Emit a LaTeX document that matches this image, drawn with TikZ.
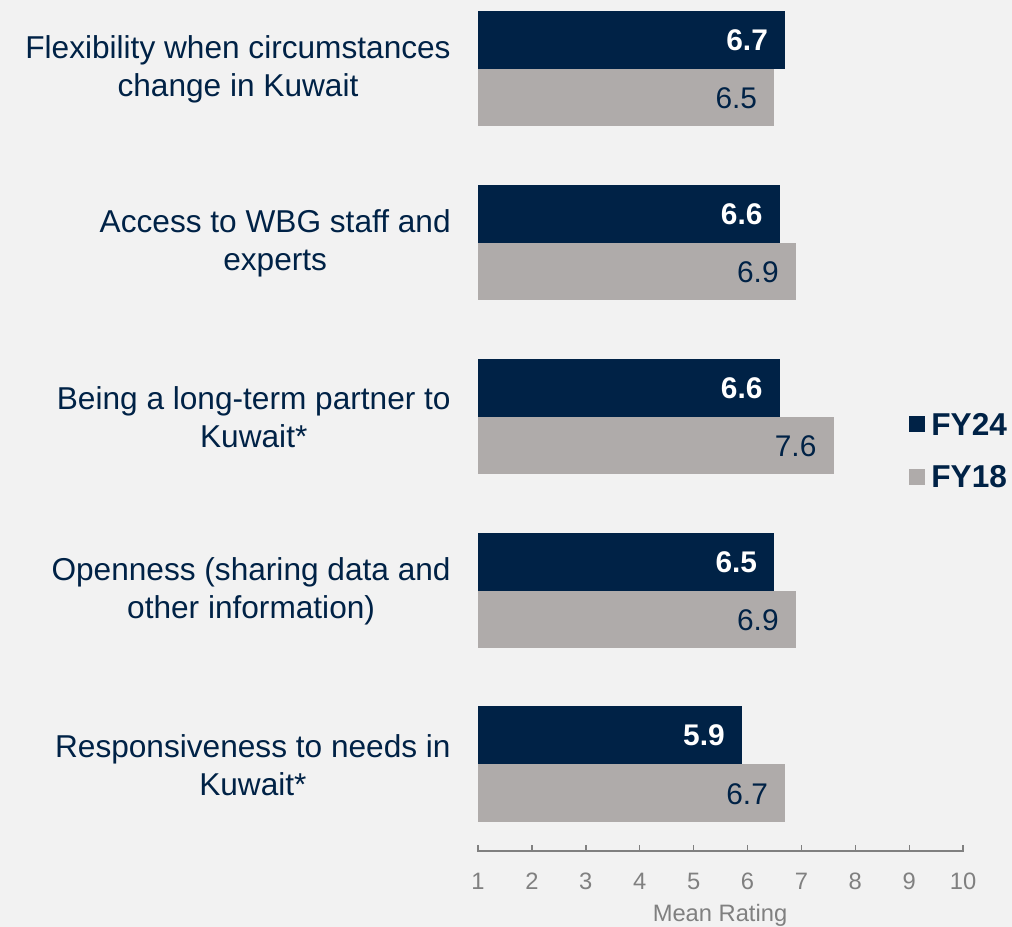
\documentclass[tikz,border=0pt]{standalone}
\usepackage{fontspec}
\setmainfont{Liberation Sans}
\usepackage{tikz}
\usetikzlibrary{positioning, calc}

\definecolor{navy}{RGB}{0,34,70}
\definecolor{barpale}{RGB}{175,171,170}
\definecolor{axisgray}{RGB}{128,128,128}
\definecolor{backgr}{RGB}{242,242,242}

% bar end for a rating (pixel grid)
\newcommand{\rx}[1]{478+(#1-1)*53.9}

\tikzset{
    catlabel/.style={anchor=east, align=center, inner sep=0pt, text=navy, font=\fontsize{18}{21.6}\selectfont},
    val24/.style={anchor=east, inner sep=0pt, text=white, font=\fontsize{17}{20}\selectfont\bfseries},
    val18/.style={anchor=east, inner sep=0pt, text=navy, font=\fontsize{17}{20}\selectfont},
    ticklabel/.style={inner sep=0pt, text=axisgray, font=\fontsize{13.5}{16}\selectfont},
    legtext/.style={anchor=west, inner sep=0pt, text=navy, font=\fontsize{18}{20}\selectfont\bfseries}
}

\begin{document}
\begin{tikzpicture}[x=0.02cm, y=-0.02cm]
        \fill[backgr] (0,0) rectangle (1012,927);
        \useasboundingbox (0,0) rectangle (1012,927);

        % bars FY24 / FY18
        \fill[navy] (478,11) rectangle ({\rx{6.7}},68.5);
        \fill[barpale] (478,68.5) rectangle ({\rx{6.5}},126);
        \fill[navy] (478,185) rectangle ({\rx{6.6}},242.5);
        \fill[barpale] (478,242.5) rectangle ({\rx{6.9}},300);
        \fill[navy] (478,359) rectangle ({\rx{6.6}},416.5);
        \fill[barpale] (478,416.5) rectangle ({\rx{7.6}},474);
        \fill[navy] (478,533) rectangle ({\rx{6.5}},590.5);
        \fill[barpale] (478,590.5) rectangle ({\rx{6.9}},648);
        \fill[navy] (478,706) rectangle ({\rx{5.9}},764);
        \fill[barpale] (478,764) rectangle ({\rx{6.7}},822);

        % values
        \node[val24] (flex24) at ({\rx{6.7}-17},40) {6.7};
        \node[val18] (flex18) at ({\rx{6.5}-17},98) {6.5};
        \node[val24] (acc24) at ({\rx{6.6}-17},214) {6.6};
        \node[val18] (acc18) at ({\rx{6.9}-17},272) {6.9};
        \node[val24] (long24) at ({\rx{6.6}-17},388) {6.6};
        \node[val18] (long18) at ({\rx{7.6}-17},446) {7.6};
        \node[val24] (open24) at ({\rx{6.5}-17},562) {6.5};
        \node[val18] (open18) at ({\rx{6.9}-17},620) {6.9};
        \node[val24] (resp24) at ({\rx{5.9}-17},735) {5.9};
        \node[val18] (resp18) at ({\rx{6.7}-17},794) {6.7};

        % categories
        \node[catlabel] (flex) at (451,69) {Flexibility when circumstances\\change in Kuwait};
        \node[catlabel] (acc) at (451,243) {Access to WBG staff and\\experts};
        \node[catlabel] (long) at (451,417) {Being a long-term partner to\\Kuwait*};
        \node[catlabel] (open) at (451,591) {Openness (sharing data and\\other information)};
        \node[catlabel] (resp) at (451,765) {Responsiveness to needs in\\Kuwait*};

        % axis
        \draw[axisgray, line width=0.8pt] (478,845) -- (478,851) -- (963,851) -- (963,845);
        \draw[axisgray, line width=0.8pt] ({\rx{2}},845) -- ({\rx{2}},851);
        \draw[axisgray, line width=0.8pt] ({\rx{3}},845) -- ({\rx{3}},851);
        \draw[axisgray, line width=0.8pt] ({\rx{4}},845) -- ({\rx{4}},851);
        \draw[axisgray, line width=0.8pt] ({\rx{5}},845) -- ({\rx{5}},851);
        \draw[axisgray, line width=0.8pt] ({\rx{6}},845) -- ({\rx{6}},851);
        \draw[axisgray, line width=0.8pt] ({\rx{7}},845) -- ({\rx{7}},851);
        \draw[axisgray, line width=0.8pt] ({\rx{8}},845) -- ({\rx{8}},851);
        \draw[axisgray, line width=0.8pt] ({\rx{9}},845) -- ({\rx{9}},851);

        \node[ticklabel] (t1) at ({\rx{1}},881) {1};
        \node[ticklabel] (t2) at ({\rx{2}},881) {2};
        \node[ticklabel] (t3) at ({\rx{3}},881) {3};
        \node[ticklabel] (t4) at ({\rx{4}},881) {4};
        \node[ticklabel] (t5) at ({\rx{5}},881) {5};
        \node[ticklabel] (t6) at ({\rx{6}},881) {6};
        \node[ticklabel] (t7) at ({\rx{7}},881) {7};
        \node[ticklabel] (t8) at ({\rx{8}},881) {8};
        \node[ticklabel] (t9) at ({\rx{9}},881) {9};
        \node[ticklabel] (t10) at ({\rx{10}},881) {10};
        \node[ticklabel] (axtitle) at (720,915) {Mean Rating};

        % legend
        \fill[navy] (909,416) rectangle (925,432);
        \node[legtext] (leg24) at (931,424) {FY24};
        \fill[barpale] (909,469) rectangle (925,485);
        \node[legtext] (leg18) at (931,477) {FY18};
    \end{tikzpicture}
\end{document}
